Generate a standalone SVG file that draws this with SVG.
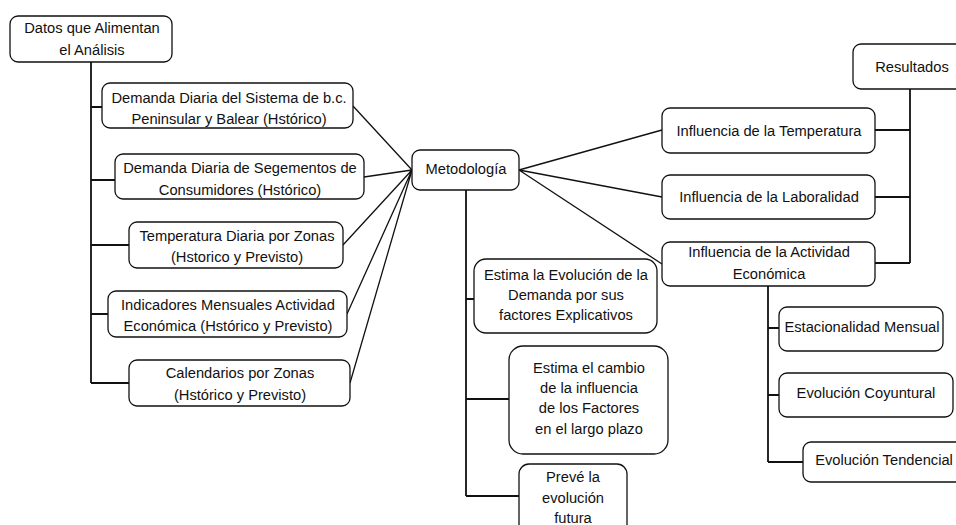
<svg xmlns="http://www.w3.org/2000/svg" width="956" height="525" viewBox="0 0 956 525">
<style>
.box{fill:#fff;stroke:#111;stroke-width:1.3}
.t{font-family:"Liberation Sans",Arial,sans-serif;font-size:14.7px;fill:#111;text-anchor:middle}
.trunk{fill:none;stroke:#111;stroke-width:1.8}
.ln{fill:none;stroke:#111;stroke-width:1.3}
</style>
<rect width="956" height="525" fill="#fff"/>
<g id="connectors">
<path class="trunk" d="M91,62 V383 M91,107 H102 M91,180 H115 M91,245 H129 M91,314 H108 M91,383 H129"/>
<path class="ln" d="M353,106 L412,170 M364,177 L412,170 M343,245 L412,170 M347,314 L412,170 M350,383 L412,170"/>
<path class="ln" d="M519,170 L662,130 M519,170 L662,197 M519,170 L662,264"/>
<path class="trunk" d="M466,190 V496 M466,299 H474 M466,399 H509 M466,496 H519"/>
<path class="trunk" d="M910,89 V263 M875,130 H910 M875,197 H910 M875,263 H910"/>
<path class="trunk" d="M768,286 V462 M768,328 H779 M768,395 H779 M768,462 H803"/>
</g>
<g id="datos"><rect class="box" x="10" y="16" width="162" height="46" rx="8"/><text class="t" x="92" y="33">Datos que Alimentan</text><text class="t" x="92" y="55">el Análisis</text></g>
<g id="sistema"><rect class="box" x="102" y="83" width="251" height="45" rx="8"/><text class="t" x="229" y="103">Demanda Diaria del Sistema de b.c.</text><text class="t" x="229" y="124">Peninsular y Balear (Hstórico)</text></g>
<g id="segmentos"><rect class="box" x="115" y="154" width="249" height="45" rx="8"/><text class="t" x="240" y="173">Demanda Diaria de Segementos de</text><text class="t" x="240" y="195">Consumidores (Hstórico)</text></g>
<g id="temperatura"><rect class="box" x="129" y="222" width="214" height="46" rx="8"/><text class="t" x="237" y="241">Temperatura Diaria por Zonas</text><text class="t" x="237" y="262">(Hstorico y Previsto)</text></g>
<g id="indicadores"><rect class="box" x="108" y="291" width="239" height="46" rx="8"/><text class="t" x="228" y="310">Indicadores Mensuales Actividad</text><text class="t" x="228" y="331">Económica (Hstórico y Previsto)</text></g>
<g id="calendarios"><rect class="box" x="129" y="360" width="221" height="46" rx="8"/><text class="t" x="240" y="378">Calendarios por Zonas</text><text class="t" x="240" y="400">(Hstórico y Previsto)</text></g>
<g id="metodologia"><rect class="box" x="412" y="150" width="107" height="40" rx="8"/><text class="t" x="466" y="174">Metodología</text></g>
<g id="estima-evolucion"><rect class="box" x="474" y="259" width="183" height="74" rx="12"/><text class="t" x="566" y="280">Estima la Evolución de la</text><text class="t" x="566" y="300">Demanda por sus</text><text class="t" x="566" y="320">factores Explicativos</text></g>
<g id="estima-cambio"><rect class="box" x="509" y="346" width="159" height="108" rx="14"/><text class="t" x="589" y="373">Estima el cambio</text><text class="t" x="589" y="393">de la influencia</text><text class="t" x="589" y="413">de los Factores</text><text class="t" x="589" y="434">en el largo plazo</text></g>
<g id="preve"><rect class="box" x="519" y="464" width="108" height="70" rx="10"/><text class="t" x="573" y="482">Prevé la</text><text class="t" x="573" y="503">evolución</text><text class="t" x="573" y="523">futura</text></g>
<g id="inf-temperatura"><rect class="box" x="662" y="108" width="213" height="45" rx="8"/><text class="t" x="769" y="136">Influencia de la Temperatura</text></g>
<g id="inf-laboralidad"><rect class="box" x="662" y="175" width="213" height="44" rx="8"/><text class="t" x="769" y="202">Influencia de la Laboralidad</text></g>
<g id="inf-actividad"><rect class="box" x="662" y="242" width="213" height="44" rx="8"/><text class="t" x="769" y="257">Influencia de la Actividad</text><text class="t" x="769" y="279">Económica</text></g>
<g id="resultados"><rect class="box" x="853" y="44" width="117" height="45" rx="8"/><text class="t" x="912" y="72">Resultados</text></g>
<g id="estacionalidad"><rect class="box" x="779" y="307" width="164" height="44" rx="8"/><text class="t" x="862" y="332">Estacionalidad Mensual</text></g>
<g id="coyuntural"><rect class="box" x="779" y="373" width="174" height="44" rx="8"/><text class="t" x="866" y="398">Evolución Coyuntural</text></g>
<g id="tendencial"><rect class="box" x="803" y="442" width="163" height="40" rx="8"/><text class="t" x="884" y="465">Evolución Tendencial</text></g>
</svg>
